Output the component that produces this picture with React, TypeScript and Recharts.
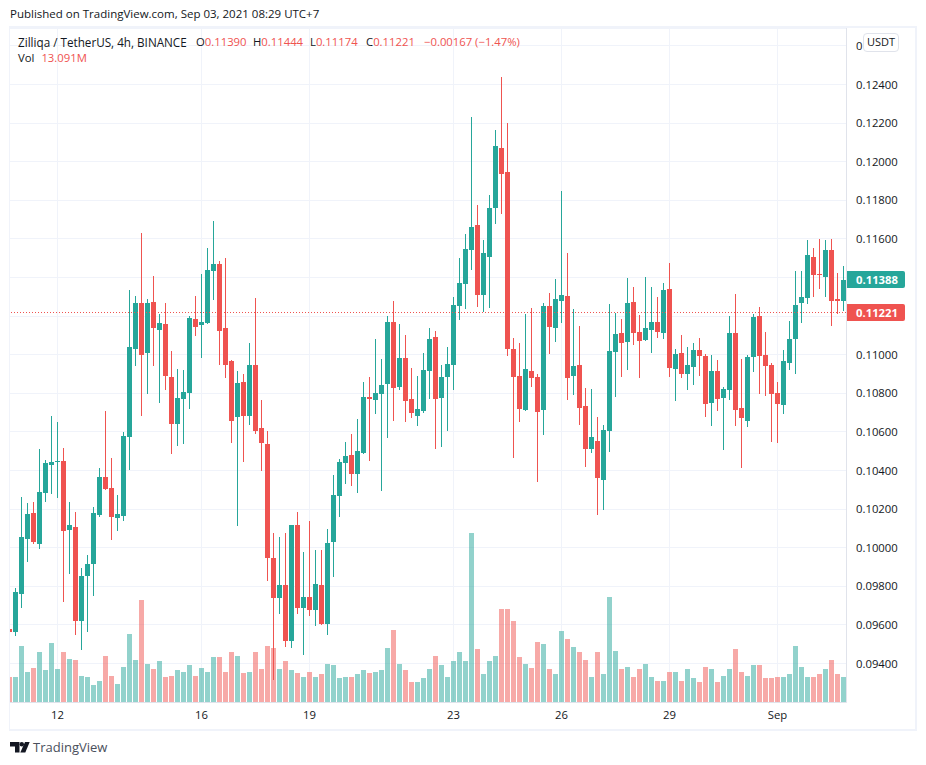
// App.tsx - ZIL/USDT 4h candles with volume
import { ComposedChart, Bar, XAxis, YAxis, CartesianGrid, ReferenceLine } from 'recharts';

const UP = '#26a69a';
const DOWN = '#ef5350';
const GRID = '#f0f3fa';
const TEXT = '#131722';
const FONT = '"Open Sans", sans-serif';
const NUM_SIZE = 11.3;

const opens = [
  0.09579,0.09563,0.09760,0.10045,0.10180,0.10019,0.10283,0.10429,0.10444,0.10449,
  0.10092,0.10107,0.09620,0.09854,0.09916,0.10170,0.10366,0.10309,0.10154,0.10164,
  0.10574,0.11030,0.11268,0.11009,0.11273,0.11128,0.11159,0.10885,0.10641,0.10771,
  0.10802,0.11185,0.11154,0.11164,0.11434,0.11470,0.11138,0.10968,0.10677,0.10859,
  0.10683,0.10947,0.10620,0.10537,0.09947,0.09740,0.09807,0.09517,0.10118,0.09688,
  0.09745,0.09678,0.09807,0.09605,0.10030,0.10268,0.10439,0.10481,0.10382,0.10491,
  0.10781,0.10765,0.10797,0.10848,0.11170,0.10833,0.10983,0.10771,0.10683,0.10708,
  0.10916,0.11092,0.10776,0.10885,0.10947,0.11252,0.11367,0.11543,0.11672,0.11309,
  0.11506,0.11760,0.12071,0.11947,0.11030,0.10890,0.10714,0.10916,0.10885,0.10714,
  0.11252,0.11138,0.11278,0.11304,0.10890,0.10947,0.10734,0.10512,0.10553,0.10351,
  0.10605,0.11014,0.11113,0.11066,0.11273,0.11118,0.11076,0.11128,0.11170,0.11113,
  0.11341,0.10926,0.11009,0.10900,0.10937,0.11024,0.10994,0.10750,0.10916,0.10776,
  0.10817,0.11113,0.10724,0.10656,0.10988,0.11201,0.10999,0.10947,0.10802,0.10740,
  0.10957,0.11081,0.11268,0.11294,0.11506,0.11418,0.11403,0.11543,0.11289,0.11278,
];
const highs = [
  0.09579,0.09791,0.10263,0.10232,0.10237,0.10512,0.10455,0.10683,0.10651,0.10517,
  0.10237,0.10185,0.09895,0.09962,0.10211,0.10413,0.10708,0.10465,0.10273,0.10600,
  0.11335,0.11304,0.11631,0.11289,0.11408,0.11211,0.11268,0.11019,0.10926,0.10921,
  0.11201,0.11304,0.11418,0.11553,0.11693,0.11486,0.11501,0.10973,0.10916,0.10900,
  0.11061,0.11294,0.10765,0.10605,0.10076,0.10056,0.10076,0.10118,0.10185,0.09978,
  0.10138,0.09988,0.09988,0.10097,0.10377,0.10460,0.10548,0.10590,0.10667,0.10859,
  0.10885,0.11081,0.10978,0.11201,0.11278,0.11159,0.11102,0.10931,0.10890,0.11009,
  0.11138,0.11123,0.10947,0.11040,0.11299,0.11501,0.11626,0.12232,0.11776,0.11594,
  0.11827,0.12164,0.12439,0.12201,0.11087,0.11061,0.11211,0.11242,0.10900,0.11268,
  0.11320,0.11392,0.11848,0.11527,0.11237,0.11149,0.10828,0.10822,0.10677,0.10636,
  0.11263,0.11216,0.11185,0.11398,0.11351,0.11206,0.11403,0.11351,0.11299,0.11372,
  0.11475,0.11030,0.11102,0.11040,0.11061,0.11087,0.11004,0.10999,0.10973,0.10833,
  0.11201,0.11315,0.10978,0.10999,0.11211,0.11247,0.11118,0.10957,0.10859,0.11024,
  0.11175,0.11434,0.11434,0.11594,0.11553,0.11600,0.11594,0.11600,0.11423,0.11460,
];
const lows = [
  0.09553,0.09543,0.09688,0.09926,0.10019,0.09993,0.10237,0.10278,0.10257,0.09719,
  0.09864,0.09548,0.09470,0.09563,0.09750,0.10159,0.10299,0.10040,0.10087,0.10138,
  0.10403,0.10942,0.10683,0.10797,0.10942,0.10750,0.10817,0.10486,0.10527,0.10537,
  0.10719,0.11097,0.10983,0.11159,0.11284,0.10947,0.10880,0.10543,0.10112,0.10444,
  0.10636,0.10590,0.10398,0.09828,0.09315,0.09657,0.09486,0.09481,0.09657,0.09444,
  0.09646,0.09595,0.09600,0.09548,0.09849,0.10159,0.10330,0.10320,0.10283,0.10486,
  0.10449,0.10693,0.10294,0.10569,0.10656,0.10817,0.10651,0.10672,0.10631,0.10698,
  0.10771,0.10512,0.10522,0.10605,0.10817,0.11180,0.11237,0.11439,0.11247,0.11221,
  0.11242,0.11677,0.11729,0.10994,0.10465,0.10651,0.10708,0.10833,0.10341,0.10584,
  0.11004,0.11066,0.11164,0.10765,0.10791,0.10636,0.10418,0.10491,0.10170,0.10196,
  0.10496,0.10781,0.10885,0.10921,0.11050,0.10880,0.11071,0.11009,0.11087,0.11081,
  0.10885,0.10760,0.10880,0.10817,0.10843,0.10890,0.10677,0.10631,0.10708,0.10506,
  0.10765,0.10631,0.10413,0.10626,0.10911,0.10797,0.10786,0.10548,0.10543,0.10693,
  0.10921,0.10900,0.11164,0.11263,0.11299,0.11341,0.11299,0.11149,0.11211,0.11227,
];
const closes = [
  0.09563,0.09771,0.10056,0.10175,0.10030,0.10289,0.10439,0.10444,0.10449,0.10087,
  0.10118,0.09620,0.09854,0.09916,0.10180,0.10366,0.10304,0.10159,0.10175,0.10579,
  0.11040,0.11268,0.10999,0.11268,0.11138,0.11164,0.10890,0.10641,0.10776,0.10807,
  0.11190,0.11143,0.11170,0.11439,0.11470,0.11123,0.10947,0.10656,0.10854,0.10683,
  0.10947,0.10605,0.10543,0.09947,0.09740,0.09807,0.09517,0.10118,0.09688,0.09745,
  0.09678,0.09812,0.09605,0.10025,0.10273,0.10444,0.10475,0.10382,0.10501,0.10781,
  0.10771,0.10802,0.10843,0.11170,0.10828,0.10983,0.10760,0.10698,0.10719,0.10921,
  0.11081,0.10771,0.10885,0.10952,0.11258,0.11372,0.11548,0.11662,0.11309,0.11527,
  0.11760,0.12081,0.11936,0.11030,0.10885,0.10719,0.10926,0.10880,0.10703,0.11252,
  0.11143,0.11289,0.11309,0.10880,0.10942,0.10724,0.10512,0.10574,0.10361,0.10610,
  0.11019,0.11107,0.11061,0.11268,0.11113,0.11071,0.11138,0.11170,0.11118,0.11335,
  0.10931,0.11004,0.10900,0.10947,0.11024,0.10994,0.10745,0.10916,0.10771,0.10822,
  0.11113,0.10714,0.10672,0.10988,0.11196,0.10994,0.10942,0.10797,0.10745,0.10968,
  0.11081,0.11258,0.11299,0.11517,0.11413,0.11413,0.11543,0.11278,0.11278,0.11388,
];
// volume in millions
const volumes = [
  13.6,13.6,29.8,16.2,18.3,26.2,16.8,31.4,17.3,26.7,
  23.0,22.5,14.1,13.1,9.4,11.5,24.1,14.1,9.9,18.8,
  36.1,22.5,53.9,19.9,17.8,21.5,13.1,14.1,16.8,16.2,
  19.4,14.1,18.3,16.2,23.6,23.6,16.2,26.2,24.6,15.2,
  16.2,26.2,17.8,29.8,28.3,17.3,21.5,16.8,15.7,13.6,
  16.2,13.6,14.7,20.4,19.4,12.6,13.6,13.6,14.7,16.8,
  15.7,16.2,16.8,28.3,38.2,19.9,16.8,10.5,10.5,12.6,
  17.3,24.6,19.4,13.1,21.5,26.2,21.5,88.5,27.8,14.7,
  21.5,24.6,49.2,49.2,42.9,23.6,19.9,18.3,31.9,30.4,
  17.3,14.7,37.2,33.5,29.3,26.2,22.5,13.6,26.7,14.7,
  55.5,27.2,17.3,18.8,13.1,17.8,19.9,13.6,11.5,11.5,
  16.2,16.2,11.5,17.3,12.6,10.5,18.8,17.3,10.5,14.1,
  17.3,27.8,16.2,14.1,19.4,19.4,12.6,12.6,13.1,13.6,
  14.7,29.8,18.8,13.1,13.6,14.7,17.3,22.5,14.7,13.1,
];

const dateTicks = [8, 32, 50, 74, 92, 110, 128];
const dateLabels = ['12', '16', '19', '23', '26', '29', 'Sep'];
const priceTicks = [
  0.094, 0.096, 0.098, 0.1, 0.102, 0.104, 0.106, 0.108, 0.11,
  0.112, 0.114, 0.116, 0.118, 0.12, 0.122, 0.124, 0.126,
];
// these two sit under the price tags on the scale
const hiddenPriceTicks = [0.112, 0.114];
// the USDT badge leaves only the first digit of this one showing
const cutPriceTick = 0.126;
const lastPrice = 0.11388;
const markPrice = 0.11221;

const quoteNames = ['O', 'H', 'L', 'C'];
const quoteValues = ['0.11390', '0.11444', '0.11174', '0.11221'];
const quoteLefts = [196, 253, 310, 366];

const data = opens.map((open, i) => ({
  i,
  open,
  high: highs[i],
  low: lows[i],
  close: closes[i],
  range: [lows[i], highs[i]],
  volume: volumes[i],
}));

function priceLabel(v: number) {
  if (hiddenPriceTicks.includes(v)) return '';
  if (v === cutPriceTick) return '0';
  return v.toFixed(5);
}

// keep marks on whole pixels so they stay sharp like the original
function Candle(props: any) {
  const { x, y, width, height, payload } = props;
  const { open, close, high, low } = payload;
  const color = close >= open ? UP : DOWN;
  const perPrice = height / (high - low);
  const left = Math.floor(x);
  const top = Math.round(y + (high - Math.max(open, close)) * perPrice);
  const bottom = Math.round(y + (high - Math.min(open, close)) * perPrice);
  const wickTop = Math.round(y);
  const wickBottom = Math.round(y + height);
  return (
    <g>
      <rect x={left + 2} y={wickTop} width={1} height={wickBottom - wickTop} fill={color} />
      <rect x={left} y={top} width={width} height={Math.max(1, bottom - top)} fill={color} />
    </g>
  );
}

function VolumeBar(props: any) {
  const { x, y, width, height, payload } = props;
  const color = payload.close >= payload.open ? UP : DOWN;
  const top = Math.round(y);
  const bottom = Math.floor(y + height);
  return <rect x={Math.floor(x)} y={top} width={width} height={bottom - top} fill={color} fillOpacity={0.5} />;
}

function GridLine(props: any) {
  const { x1, x2, y1, y2 } = props;
  const y = Math.floor(y1) + 0.5;
  return <line x1={x1} x2={x2} y1={y1 === y2 ? y : y1} y2={y1 === y2 ? y : y2} stroke={GRID} strokeWidth={1} />;
}

function DottedLine(props: any) {
  const { x1, x2, y1 } = props;
  const y = Math.floor(y1) + 0.5;
  return <line x1={Math.floor(x1)} x2={x2} y1={y} y2={y} stroke={DOWN} strokeDasharray="1 2" strokeWidth={1} />;
}

function PriceTag(props: any) {
  const { viewBox, color, value } = props;
  const x = viewBox.x + viewBox.width;
  const y = Math.floor(viewBox.y) + 0.5;
  return (
    <g>
      <path
        d={`M${x} ${y - 8.5}h56.5a2 2 0 0 1 2 2v13a2 2 0 0 1 -2 2h-56.5z`}
        fill={color}
      />
      <text x={x + 9.5} y={y + 4.5} fill="#fff" fontSize={NUM_SIZE} fontWeight={700} fontFamily={FONT}>
        {value}
      </text>
    </g>
  );
}

export default function App() {
  return (
    <div style={{ position: 'absolute', left: 0, top: 0, width: 926, height: 765, background: '#fff', overflow: 'hidden', fontFamily: FONT, color: TEXT }}>
      <div style={{ position: 'absolute', left: 10, top: 6, fontSize: 11.5, lineHeight: '16px', whiteSpace: 'nowrap' }}>
        Published on TradingView.com, Sep 03, 2021 08:29 UTC+7
      </div>

      <ComposedChart
        width={926}
        height={765}
        data={data}
        barGap={-5}
        margin={{ top: 28, right: 9.5, bottom: 35.5, left: 6.5 }}
        style={{ position: 'absolute', left: 0, top: 0 }}
      >
        <CartesianGrid horizontal={GridLine} vertical={GridLine} xAxisId="date" yAxisId="price" />
        <XAxis
          xAxisId="date"
          dataKey="i"
          ticks={dateTicks}
          interval={0}
          tickFormatter={(v: number) => dateLabels[dateTicks.indexOf(v)]}
          height={27}
          axisLine={{ stroke: '#e0e3eb' }}
          tickLine={false}
          tickSize={0}
          tickMargin={8}
          tick={{ fontSize: NUM_SIZE, fill: TEXT, fontFamily: FONT }}
        />
        <YAxis
          yAxisId="price"
          orientation="right"
          width={70}
          domain={[0.091979, 0.126927]}
          allowDataOverflow
          ticks={priceTicks}
          interval={0}
          tickFormatter={priceLabel}
          axisLine={{ stroke: '#e0e3eb' }}
          tickLine={false}
          tickSize={0}
          tickMargin={9.5}
          tick={{ fontSize: NUM_SIZE, fill: TEXT, fontFamily: FONT, textAnchor: 'start' }}
        />
        <YAxis yAxisId="vol" hide domain={[0, 353.2]} allowDataOverflow />
        <Bar
          xAxisId="date"
          yAxisId="vol"
          dataKey="volume"
          barSize={5}
          shape={<VolumeBar />}
          isAnimationActive={false}
        />
        <Bar
          xAxisId="date"
          yAxisId="price"
          dataKey="range"
          barSize={5}
          shape={<Candle />}
          isAnimationActive={false}
        />
        <ReferenceLine
          xAxisId="date"
          yAxisId="price"
          y={markPrice}
          shape={DottedLine}
          label={<PriceTag color={DOWN} value={markPrice.toFixed(5)} />}
        />
        <ReferenceLine
          xAxisId="date"
          yAxisId="price"
          y={lastPrice}
          stroke="none"
          label={<PriceTag color={UP} value={lastPrice.toFixed(5)} />}
        />
      </ComposedChart>

      {/* pane frame, hides what falls left of the first bar */}
      <div style={{ position: 'absolute', left: 0, top: 26, width: 10, height: 705, background: '#fff' }} />
      <div style={{ position: 'absolute', left: 9, top: 26, width: 908, height: 705, boxSizing: 'border-box', border: `2px solid ${GRID}`, borderLeftWidth: 1.5 }} />

      <div style={{ position: 'absolute', left: 18, top: 34, fontSize: 11.7, lineHeight: '16px', whiteSpace: 'nowrap' }}>
        Zilliqa / TetherUS, 4h, BINANCE
      </div>
      {quoteNames.map((name, i) => (
        <div key={name} style={{ position: 'absolute', left: quoteLefts[i], top: 34, fontSize: NUM_SIZE, lineHeight: '16px', whiteSpace: 'nowrap' }}>
          {name}<span style={{ color: DOWN }}>{quoteValues[i]}</span>
        </div>
      ))}
      <div style={{ position: 'absolute', left: 424, top: 34, fontSize: NUM_SIZE, lineHeight: '16px', whiteSpace: 'nowrap', color: DOWN }}>
        −0.00167 (−1.47%)
      </div>
      <div style={{ position: 'absolute', left: 18, top: 50, fontSize: NUM_SIZE, lineHeight: '16px', whiteSpace: 'nowrap' }}>
        <span>Vol</span>
        <span style={{ marginLeft: 7, color: DOWN }}>13.091M</span>
      </div>

      <div style={{ position: 'absolute', left: 863, top: 33, width: 36, height: 19, boxSizing: 'border-box', background: '#fff', border: '1px solid #e0e3eb', borderRadius: 4, fontSize: 11, lineHeight: '16px', textAlign: 'center' }}>
        USDT
      </div>

      <svg width={20} height={11} style={{ position: 'absolute', left: 10, top: 742 }}>
        <path d="M0 0h9.500v10.500h-4.500v-6h-5z" fill="#131722" />
        <circle cx={11.8} cy={2.2} r={2.2} fill="#131722" />
        <path d="M15 0h4.700l-4.400 10.500h-5z" fill="#131722" />
      </svg>
      <div style={{ position: 'absolute', left: 33, top: 738, fontSize: 13, lineHeight: '18px', color: '#4a4f5c', whiteSpace: 'nowrap' }}>
        TradingView
      </div>
    </div>
  );
}
